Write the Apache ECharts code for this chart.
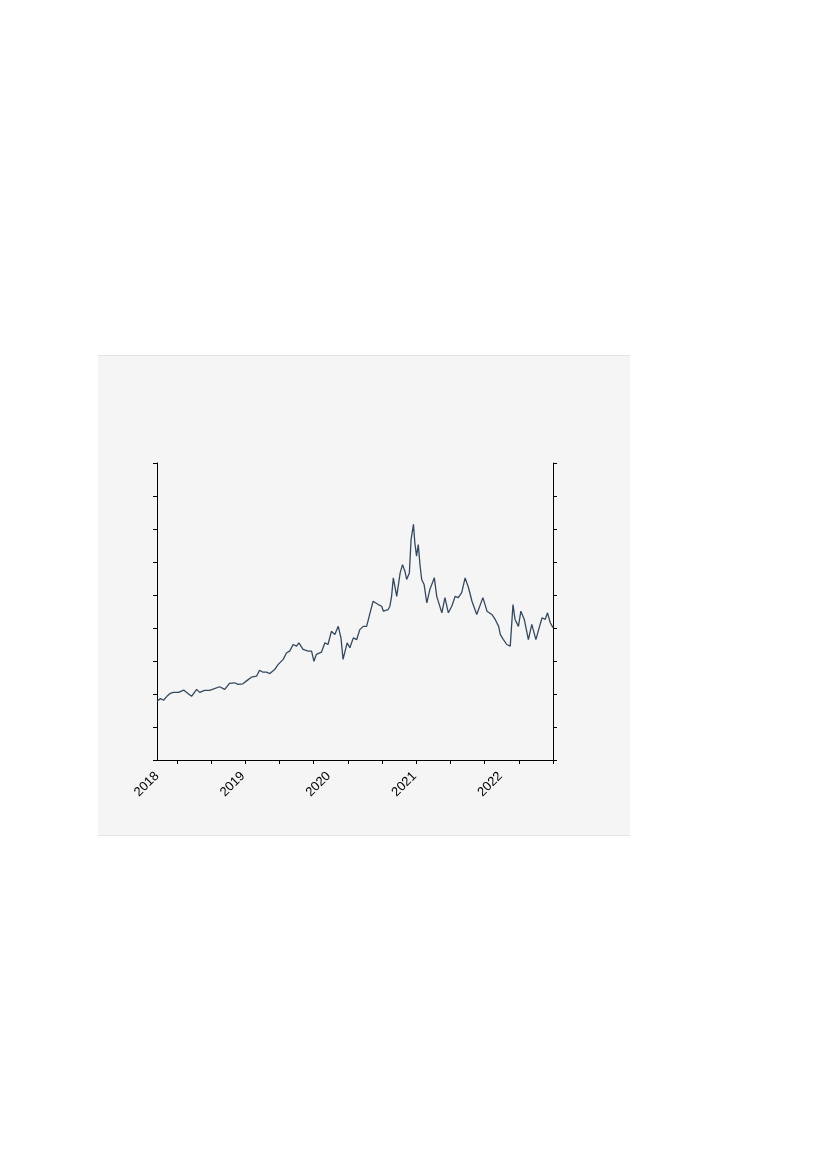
<!DOCTYPE html>
<html>
<head>
<meta charset="utf-8">
<script src="https://cdn.jsdelivr.net/npm/echarts@6/dist/echarts.min.js"></script>
<style>
  html, body { margin: 0; padding: 0; background: #fff; }
  #panel {
    position: absolute; left: 98px; top: 355px; width: 532px; height: 479px;
    background: #f5f5f5; border-top: 1px solid #e4e4e4; border-bottom: 1px solid #e4e4e4;
  }
  #chart { position: absolute; left: 0; top: 0; width: 827px; height: 1170px; }
</style>
</head>
<body>
<div id="panel"></div>
<div id="chart"></div>
<script>
// x = trading day counted from the left edge of the plot, y = price (axis units 0..9)
const TRADING_DAY = [
  0, 10, 19, 29, 39, 48, 63, 78, 86, 101, 116, 125, 139, 154, 183, 198, 212, 227, 237, 251,
  261, 276, 291, 300, 310, 320, 330, 344, 354, 369, 379, 388, 398, 408, 415, 427, 442, 452, 459, 466,
  481, 491, 500, 510, 520, 530, 538, 544, 549, 556, 564, 574, 584, 593, 603, 613, 623, 632, 647, 657,
  662, 676, 681, 686, 691, 701, 711, 718, 725, 730, 738, 743, 750, 754, 759, 764, 769, 774, 781, 789,
  798, 811, 818, 833, 842, 852, 862, 872, 881, 891, 901, 911, 921, 935, 953, 965, 979, 989, 999, 1004,
  1013, 1023, 1033, 1041, 1047, 1057, 1064, 1074, 1086, 1096, 1108, 1116, 1126, 1135, 1142, 1150, 1158
];
const PRICE = [
  1.78, 1.86, 1.81, 1.93, 2.02, 2.05, 2.05, 2.12, 2.05, 1.93, 2.14, 2.05, 2.11, 2.11, 2.22, 2.14, 2.32, 2.34, 2.29, 2.31,
  2.39, 2.51, 2.54, 2.72, 2.66, 2.66, 2.62, 2.74, 2.89, 3.05, 3.25, 3.30, 3.50, 3.45, 3.55, 3.35, 3.30, 3.30, 2.99, 3.20,
  3.27, 3.55, 3.50, 3.90, 3.80, 4.05, 3.70, 3.05, 2.99, 3.55, 3.40, 3.70, 3.65, 3.95, 4.05, 4.05, 4.46, 4.81, 4.71, 4.66,
  4.51, 4.56, 4.66, 4.96, 5.52, 4.96, 5.67, 5.92, 5.72, 5.47, 5.67, 6.68, 7.14, 6.58, 6.18, 6.53, 5.92, 5.47, 5.32, 4.76,
  5.17, 5.52, 4.96, 4.46, 4.92, 4.46, 4.66, 4.96, 4.92, 5.07, 5.52, 5.22, 4.81, 4.41, 4.92, 4.51, 4.41, 4.26, 4.05, 3.80,
  3.65, 3.50, 3.45, 4.71, 4.26, 4.05, 4.51, 4.26, 3.65, 4.11, 3.65, 3.95, 4.31, 4.26, 4.46, 4.16, 4.01
];

const YEAR_LABELS = ["2018", "2019", "2020", "2021", "2022"];
const YEAR_START_DAY = [0, 251, 502, 753, 1004];
const X_TICK_DAYS = [58, 158, 258, 358, 458, 558, 658, 758, 858, 958, 1058, 1158];

const seriesData = TRADING_DAY.map((d, i) => [d, PRICE[i]]);

const chart = echarts.init(document.getElementById("chart"));

const yAxisCommon = {
  type: "value",
  min: 0,
  max: 9,
  interval: 1,
  axisLine: { show: true, lineStyle: { color: "#000", width: 1 } },
  axisTick: { show: true, inside: false, length: 4, lineStyle: { color: "#000" } },
  axisLabel: { show: false },
  splitLine: { show: false }
};

chart.setOption({
  animation: false,
  backgroundColor: "transparent",
  grid: { left: 157, top: 463, width: 396, height: 297 },
  xAxis: {
    type: "value",
    min: 0,
    max: 1158,
    axisLine: { show: true, lineStyle: { color: "#000", width: 1 } },
    axisTick: { show: true, length: 4, customValues: X_TICK_DAYS, lineStyle: { color: "#000" } },
    axisLabel: {
      show: true,
      customValues: YEAR_START_DAY,
      rotate: 45,
      margin: 14,
      color: "#000",
      fontSize: 13,
      fontFamily: "Liberation Sans, Arial, sans-serif",
      formatter: (v) => YEAR_LABELS[YEAR_START_DAY.indexOf(v)]
    },
    splitLine: { show: false }
  },
  yAxis: [
    Object.assign({ position: "left" }, yAxisCommon),
    Object.assign({ position: "right" }, yAxisCommon)
  ],
  series: [
    {
      type: "line",
      data: seriesData,
      symbol: "none",
      lineStyle: { color: "#34495e", width: 1.3 },
      itemStyle: { color: "#34495e" }
    }
  ]
});
</script>
</body>
</html>
